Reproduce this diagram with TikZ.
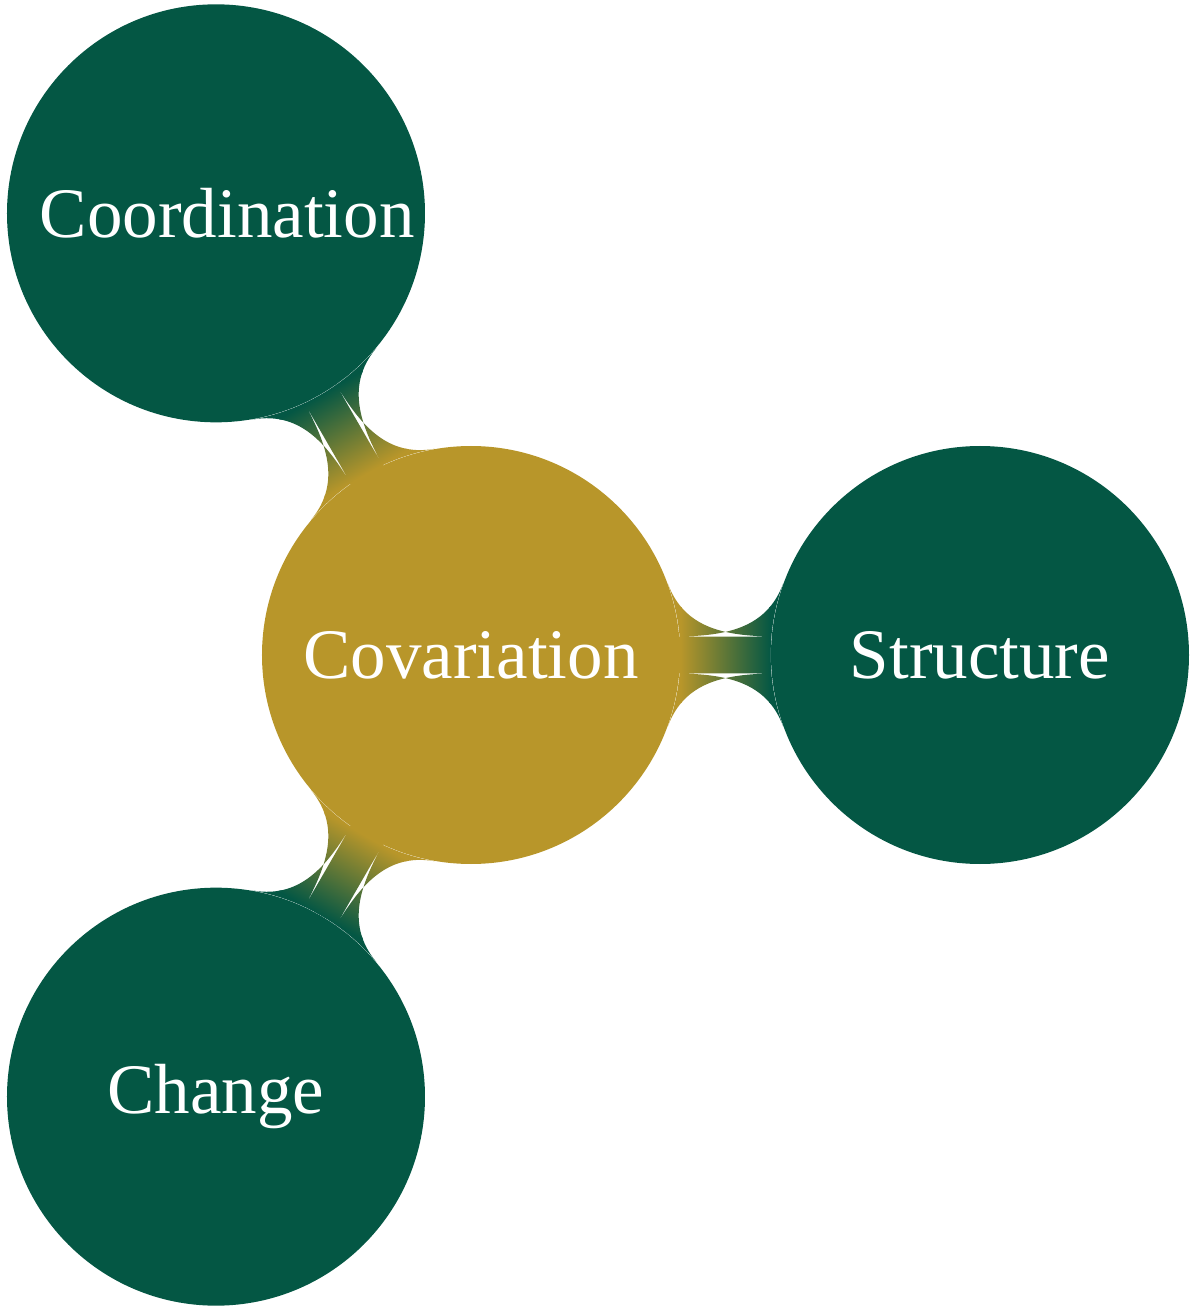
\documentclass[tikz,border=0pt]{standalone}
\usepackage{fontspec}
\setmainfont{Liberation Serif}
\usetikzlibrary{mindmap}
\definecolor{covgold}{RGB}{184,150,42}
\definecolor{deepgreen}{RGB}{4,87,68}

\begin{document}
\begin{tikzpicture}[
  topic/.style={circle, fill=#1, minimum size=209pt, inner sep=0pt,
    text width=176pt, align=center,
    text=white, font=\fontsize{35.5}{40}\selectfont},
  link/.style={line width=19pt}]
  \useasboundingbox (-235.5pt,-328.5pt) rectangle (362.5pt,327.5pt);
  \node[topic=covgold] (cov) at (0,0) {Covariation};
  \node[topic=deepgreen] (struct) at (0:254.5pt) {Structure};
  \node[topic=deepgreen] (coord) at (120:255pt) {Coordination};
  \node[topic=deepgreen] (change) at (240:255pt) {Change};
  % bars between the centre and its three neighbours
  \path[link] (cov) to[circle connection bar switch color=from (covgold) to (deepgreen)] (struct);
  \path[link] (cov) to[circle connection bar switch color=from (covgold) to (deepgreen)] (coord);
  \path[link] (cov) to[circle connection bar switch color=from (covgold) to (deepgreen)] (change);
\end{tikzpicture}
\end{document}
